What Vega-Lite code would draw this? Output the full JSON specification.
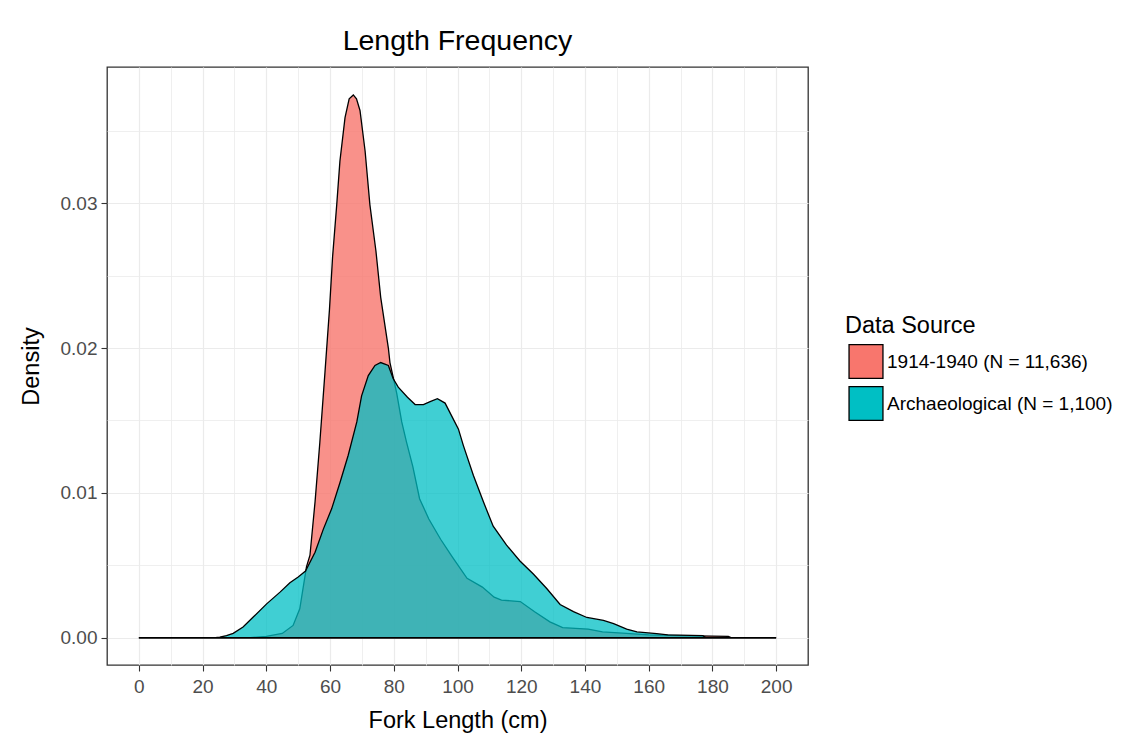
{
  "$schema": "https://vega.github.io/schema/vega-lite/v6.json",
  "width": 701,
  "height": 598,
  "autosize": {"type": "none"},
  "padding": {"left": 107, "top": 67, "right": 323, "bottom": 75},
  "background": "white",
  "title": {"text": "Length Frequency", "fontSize": 28.5, "font": "Liberation Sans", "fontWeight": "normal", "color": "black", "anchor": "middle", "offset": 12},
  "config": {
    "font": "Liberation Sans",
    "view": {"stroke": "#333333", "strokeWidth": 1.3}
  },
  "data": {"values": [
    {"source": "1914-1940 (N = 11,636)", "x": 0, "d": 0},
    {"source": "1914-1940 (N = 11,636)", "x": 35, "d": 0},
    {"source": "1914-1940 (N = 11,636)", "x": 40, "d": 0.0001},
    {"source": "1914-1940 (N = 11,636)", "x": 45, "d": 0.0003},
    {"source": "1914-1940 (N = 11,636)", "x": 48.4, "d": 0.00085},
    {"source": "1914-1940 (N = 11,636)", "x": 50.5, "d": 0.002},
    {"source": "1914-1940 (N = 11,636)", "x": 52.6, "d": 0.0049},
    {"source": "1914-1940 (N = 11,636)", "x": 53.7, "d": 0.0057},
    {"source": "1914-1940 (N = 11,636)", "x": 55.3, "d": 0.0094},
    {"source": "1914-1940 (N = 11,636)", "x": 56.8, "d": 0.0135},
    {"source": "1914-1940 (N = 11,636)", "x": 58.4, "d": 0.0183},
    {"source": "1914-1940 (N = 11,636)", "x": 59.8, "d": 0.0226},
    {"source": "1914-1940 (N = 11,636)", "x": 60.8, "d": 0.0263},
    {"source": "1914-1940 (N = 11,636)", "x": 62.1, "d": 0.0299},
    {"source": "1914-1940 (N = 11,636)", "x": 63.1, "d": 0.0329},
    {"source": "1914-1940 (N = 11,636)", "x": 64.7, "d": 0.0359},
    {"source": "1914-1940 (N = 11,636)", "x": 66, "d": 0.0372},
    {"source": "1914-1940 (N = 11,636)", "x": 67.3, "d": 0.03747},
    {"source": "1914-1940 (N = 11,636)", "x": 68.3, "d": 0.0372},
    {"source": "1914-1940 (N = 11,636)", "x": 69.4, "d": 0.0364},
    {"source": "1914-1940 (N = 11,636)", "x": 71.0, "d": 0.0336},
    {"source": "1914-1940 (N = 11,636)", "x": 72.5, "d": 0.0299},
    {"source": "1914-1940 (N = 11,636)", "x": 74.4, "d": 0.0267},
    {"source": "1914-1940 (N = 11,636)", "x": 75.9, "d": 0.0235},
    {"source": "1914-1940 (N = 11,636)", "x": 78.3, "d": 0.02},
    {"source": "1914-1940 (N = 11,636)", "x": 78.8, "d": 0.019},
    {"source": "1914-1940 (N = 11,636)", "x": 80.9, "d": 0.0169},
    {"source": "1914-1940 (N = 11,636)", "x": 82.5, "d": 0.0149},
    {"source": "1914-1940 (N = 11,636)", "x": 84, "d": 0.0135},
    {"source": "1914-1940 (N = 11,636)", "x": 86, "d": 0.0118},
    {"source": "1914-1940 (N = 11,636)", "x": 88.1, "d": 0.0096},
    {"source": "1914-1940 (N = 11,636)", "x": 91.0, "d": 0.0082},
    {"source": "1914-1940 (N = 11,636)", "x": 94.7, "d": 0.0068},
    {"source": "1914-1940 (N = 11,636)", "x": 98.3, "d": 0.0056},
    {"source": "1914-1940 (N = 11,636)", "x": 103, "d": 0.0041},
    {"source": "1914-1940 (N = 11,636)", "x": 107.8, "d": 0.0035},
    {"source": "1914-1940 (N = 11,636)", "x": 111.5, "d": 0.0028},
    {"source": "1914-1940 (N = 11,636)", "x": 113.8, "d": 0.0026},
    {"source": "1914-1940 (N = 11,636)", "x": 119.7, "d": 0.0025},
    {"source": "1914-1940 (N = 11,636)", "x": 124.2, "d": 0.0018},
    {"source": "1914-1940 (N = 11,636)", "x": 129, "d": 0.0011},
    {"source": "1914-1940 (N = 11,636)", "x": 133, "d": 0.0007},
    {"source": "1914-1940 (N = 11,636)", "x": 141, "d": 0.0006},
    {"source": "1914-1940 (N = 11,636)", "x": 145.5, "d": 0.0004},
    {"source": "1914-1940 (N = 11,636)", "x": 153, "d": 0.0003},
    {"source": "1914-1940 (N = 11,636)", "x": 160, "d": 0.0002},
    {"source": "1914-1940 (N = 11,636)", "x": 170, "d": 0.00015},
    {"source": "1914-1940 (N = 11,636)", "x": 180, "d": 0.00012},
    {"source": "1914-1940 (N = 11,636)", "x": 185, "d": 0.0001},
    {"source": "1914-1940 (N = 11,636)", "x": 186, "d": 0},
    {"source": "1914-1940 (N = 11,636)", "x": 200, "d": 0},
    {"source": "Archaeological (N = 1,100)", "x": 0, "d": 0},
    {"source": "Archaeological (N = 1,100)", "x": 24, "d": 0},
    {"source": "Archaeological (N = 1,100)", "x": 25.4, "d": 0.00005},
    {"source": "Archaeological (N = 1,100)", "x": 27.5, "d": 0.00015},
    {"source": "Archaeological (N = 1,100)", "x": 29.6, "d": 0.0003},
    {"source": "Archaeological (N = 1,100)", "x": 32.7, "d": 0.00074},
    {"source": "Archaeological (N = 1,100)", "x": 35.9, "d": 0.00143},
    {"source": "Archaeological (N = 1,100)", "x": 40.1, "d": 0.00234},
    {"source": "Archaeological (N = 1,100)", "x": 44.3, "d": 0.00315},
    {"source": "Archaeological (N = 1,100)", "x": 47.4, "d": 0.0038},
    {"source": "Archaeological (N = 1,100)", "x": 50, "d": 0.0042},
    {"source": "Archaeological (N = 1,100)", "x": 52.3, "d": 0.0046},
    {"source": "Archaeological (N = 1,100)", "x": 55.3, "d": 0.0059},
    {"source": "Archaeological (N = 1,100)", "x": 57.9, "d": 0.0075},
    {"source": "Archaeological (N = 1,100)", "x": 60.5, "d": 0.0089},
    {"source": "Archaeological (N = 1,100)", "x": 63.1, "d": 0.0107},
    {"source": "Archaeological (N = 1,100)", "x": 65.7, "d": 0.0126},
    {"source": "Archaeological (N = 1,100)", "x": 68.4, "d": 0.0149},
    {"source": "Archaeological (N = 1,100)", "x": 69.9, "d": 0.0167},
    {"source": "Archaeological (N = 1,100)", "x": 72.0, "d": 0.0181},
    {"source": "Archaeological (N = 1,100)", "x": 74.1, "d": 0.0188},
    {"source": "Archaeological (N = 1,100)", "x": 75.9, "d": 0.019},
    {"source": "Archaeological (N = 1,100)", "x": 78.3, "d": 0.0188},
    {"source": "Archaeological (N = 1,100)", "x": 79.8, "d": 0.0179},
    {"source": "Archaeological (N = 1,100)", "x": 81.4, "d": 0.0173},
    {"source": "Archaeological (N = 1,100)", "x": 84.3, "d": 0.0166},
    {"source": "Archaeological (N = 1,100)", "x": 86.7, "d": 0.0161},
    {"source": "Archaeological (N = 1,100)", "x": 89.3, "d": 0.0161},
    {"source": "Archaeological (N = 1,100)", "x": 91.4, "d": 0.0163},
    {"source": "Archaeological (N = 1,100)", "x": 93.7, "d": 0.0165},
    {"source": "Archaeological (N = 1,100)", "x": 96.1, "d": 0.0162},
    {"source": "Archaeological (N = 1,100)", "x": 98.2, "d": 0.0153},
    {"source": "Archaeological (N = 1,100)", "x": 100.3, "d": 0.0144},
    {"source": "Archaeological (N = 1,100)", "x": 101.8, "d": 0.0133},
    {"source": "Archaeological (N = 1,100)", "x": 105, "d": 0.0112},
    {"source": "Archaeological (N = 1,100)", "x": 108.1, "d": 0.0094},
    {"source": "Archaeological (N = 1,100)", "x": 111.2, "d": 0.0077},
    {"source": "Archaeological (N = 1,100)", "x": 115.4, "d": 0.0064},
    {"source": "Archaeological (N = 1,100)", "x": 119.6, "d": 0.0053},
    {"source": "Archaeological (N = 1,100)", "x": 123.8, "d": 0.0044},
    {"source": "Archaeological (N = 1,100)", "x": 128, "d": 0.0034},
    {"source": "Archaeological (N = 1,100)", "x": 132.2, "d": 0.0023},
    {"source": "Archaeological (N = 1,100)", "x": 136.4, "d": 0.0018},
    {"source": "Archaeological (N = 1,100)", "x": 140.6, "d": 0.0014},
    {"source": "Archaeological (N = 1,100)", "x": 145.8, "d": 0.0012},
    {"source": "Archaeological (N = 1,100)", "x": 149, "d": 0.00097},
    {"source": "Archaeological (N = 1,100)", "x": 153.1, "d": 0.0006},
    {"source": "Archaeological (N = 1,100)", "x": 156.3, "d": 0.0004},
    {"source": "Archaeological (N = 1,100)", "x": 162.5, "d": 0.00028},
    {"source": "Archaeological (N = 1,100)", "x": 166, "d": 0.0002},
    {"source": "Archaeological (N = 1,100)", "x": 177, "d": 0.00015},
    {"source": "Archaeological (N = 1,100)", "x": 178, "d": 0},
    {"source": "Archaeological (N = 1,100)", "x": 200, "d": 0}
  ]},
  "layer": [
    {
      "mark": {"type": "point", "opacity": 0, "size": 1},
      "encoding": {
        "x": {"field": "x", "type": "quantitative", "scale": {"domain": [-10, 210], "nice": false, "zero": false},
          "axis": {"orient": "top", "values": [10, 30, 50, 70, 90, 110, 130, 150, 170, 190], "grid": true, "gridColor": "#EBEBEB", "gridWidth": 0.8, "labels": false, "ticks": false, "domain": false, "title": null}},
        "y": {"field": "d", "type": "quantitative", "scale": {"domain": [-0.00188, 0.0394], "nice": false, "zero": false},
          "axis": {"orient": "right", "values": [0.005, 0.015, 0.025, 0.035], "grid": true, "gridColor": "#EBEBEB", "gridWidth": 0.8, "labels": false, "ticks": false, "domain": false, "title": null}}
      }
    },
    {
      "mark": {"type": "area", "stroke": "black", "strokeWidth": 1.3, "interpolate": "linear"},
      "encoding": {
        "x": {"field": "x", "type": "quantitative",
          "axis": {"orient": "bottom", "values": [0, 20, 40, 60, 80, 100, 120, 140, 160, 180, 200], "grid": true, "gridColor": "#EBEBEB", "gridWidth": 1.2,
            "domain": false, "tickColor": "#333333", "tickSize": 6, "tickWidth": 1.1, "labelColor": "#4D4D4D", "labelFontSize": 19, "labelPadding": 6,
            "title": "Fork Length (cm)", "titleFontSize": 23.5, "titleFontWeight": "normal", "titleColor": "black", "titlePadding": 12}},
        "y": {"field": "d", "type": "quantitative", "stack": null,
          "axis": {"orient": "left", "values": [0, 0.01, 0.02, 0.03], "format": ".2f", "grid": true, "gridColor": "#EBEBEB", "gridWidth": 1.2,
            "domain": false, "tickColor": "#333333", "tickSize": 6, "tickWidth": 1.1, "labelColor": "#4D4D4D", "labelFontSize": 19, "labelPadding": 4,
            "title": "Density", "titleFontSize": 23.5, "titleFontWeight": "normal", "titleColor": "black", "titlePadding": 17}},
        "y2": {"datum": 0},
        "color": {"field": "source", "type": "nominal",
          "scale": {"domain": ["1914-1940 (N = 11,636)", "Archaeological (N = 1,100)"], "range": ["#F8766D", "#00BFC4"]},
          "legend": {"title": "Data Source", "orient": "none", "legendX": 738, "legendY": 247, "padding": 0,
            "titleFontSize": 23.5, "titleFontWeight": "normal", "titleColor": "black", "titlePadding": 6,
            "labelFontSize": 19, "labelColor": "black", "labelOffset": 3, "labelLimit": 0,
            "symbolType": "square", "symbolSize": 1150, "symbolStrokeColor": "black", "symbolStrokeWidth": 1.3, "symbolOpacity": 1, "symbolOffset": 3, "rowPadding": 2}},
        "fillOpacity": {"field": "source", "type": "nominal",
          "scale": {"domain": ["1914-1940 (N = 11,636)", "Archaeological (N = 1,100)"], "range": [0.8, 0.75]}, "legend": null}
      }
    }
  ],
  "resolve": {"axis": {"x": "independent", "y": "independent"}}
}
